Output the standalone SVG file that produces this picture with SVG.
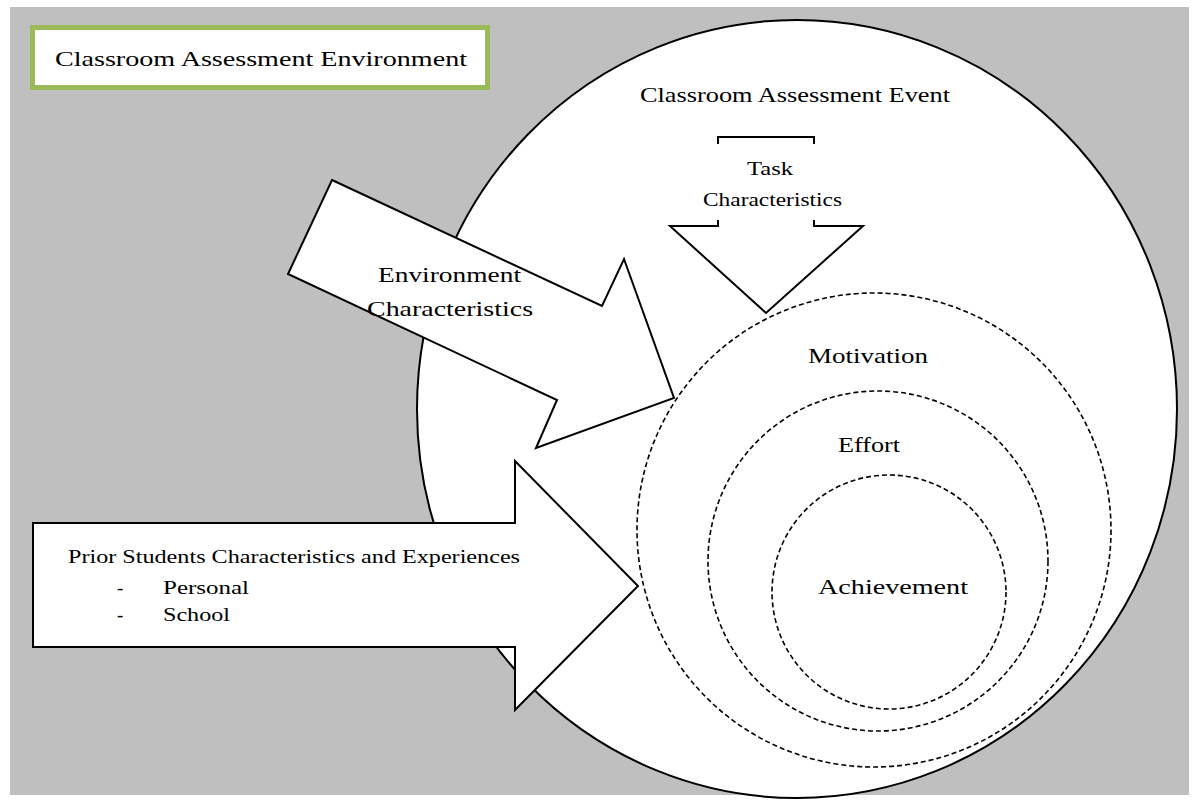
<svg xmlns="http://www.w3.org/2000/svg" width="1201" height="801" viewBox="0 0 1201 801">
<style>
.t{font-family:"Liberation Serif","Times New Roman",serif;fill:#000}
.arrow{fill:#fff;stroke:#000;stroke-width:2;stroke-linejoin:miter}
.ring{fill:none;stroke:#000;stroke-width:1.6;stroke-dasharray:5 3}
</style>
<rect x="0" y="0" width="1201" height="801" fill="#fff"/>
<rect x="10" y="7" width="1179" height="788" fill="#bfbfbf"/>
<g id="title">
<rect x="32.5" y="27.5" width="455" height="60" fill="#fff" stroke="#9bbb59" stroke-width="5"/>
<text class="t" x="55" y="66" font-size="21" textLength="412" lengthAdjust="spacingAndGlyphs">Classroom Assessment Environment</text>
</g>
<g id="event">
<ellipse cx="797" cy="409" rx="380" ry="389" fill="#fff" stroke="#000" stroke-width="2"/>
<text class="t" x="640" y="102" font-size="21" textLength="310" lengthAdjust="spacingAndGlyphs">Classroom Assessment Event</text>
</g>
<g id="motivation">
<circle class="ring" cx="874" cy="530" r="237"/>
<text class="t" x="808" y="363" font-size="21" textLength="120" lengthAdjust="spacingAndGlyphs">Motivation</text>
</g>
<g id="effort">
<circle class="ring" cx="878" cy="561" r="170"/>
<text class="t" x="838" y="452" font-size="21" textLength="62" lengthAdjust="spacingAndGlyphs">Effort</text>
</g>
<g id="achievement">
<circle class="ring" cx="889" cy="592" r="117"/>
<text class="t" x="818" y="594" font-size="21" textLength="150" lengthAdjust="spacingAndGlyphs">Achievement</text>
</g>
<g id="connectors">
<g id="task-arrow">
<polygon points="718,137 814,137 814,226 863,226 766,313 670,226 718,226" fill="#fff" stroke="none"/>
<path d="M718,144 V137 H814 V144" fill="none" stroke="#000" stroke-width="2"/>
<path d="M718,220 V226 H670 L766,313 L863,226 H814 V220" fill="none" stroke="#000" stroke-width="2" stroke-linejoin="miter"/>
<text class="t" x="747" y="175" font-size="19" textLength="46" lengthAdjust="spacingAndGlyphs">Task</text>
<text class="t" x="703" y="206" font-size="19" textLength="139" lengthAdjust="spacingAndGlyphs">Characteristics</text>
</g>
<g id="environment-arrow">
<polygon class="arrow" points="332,180 602,306 624,259 674,398 536,448 557,400 288,274"/>
<text class="t" x="378" y="282" font-size="21" textLength="143" lengthAdjust="spacingAndGlyphs">Environment</text>
<text class="t" x="367" y="316" font-size="21" textLength="166" lengthAdjust="spacingAndGlyphs">Characteristics</text>
</g>
<g id="prior-arrow">
<polygon class="arrow" points="33,523 515,523 515,461 638,586 515,710 515,647 33,647"/>
<text class="t" x="68" y="563" font-size="19" textLength="452" lengthAdjust="spacingAndGlyphs">Prior Students Characteristics and Experiences</text>
<text class="t" x="117" y="594" font-size="19">-</text>
<text class="t" x="163" y="594" font-size="19" textLength="86" lengthAdjust="spacingAndGlyphs">Personal</text>
<text class="t" x="117" y="621" font-size="19">-</text>
<text class="t" x="163" y="621" font-size="19" textLength="67" lengthAdjust="spacingAndGlyphs">School</text>
</g>
</g>
</svg>
